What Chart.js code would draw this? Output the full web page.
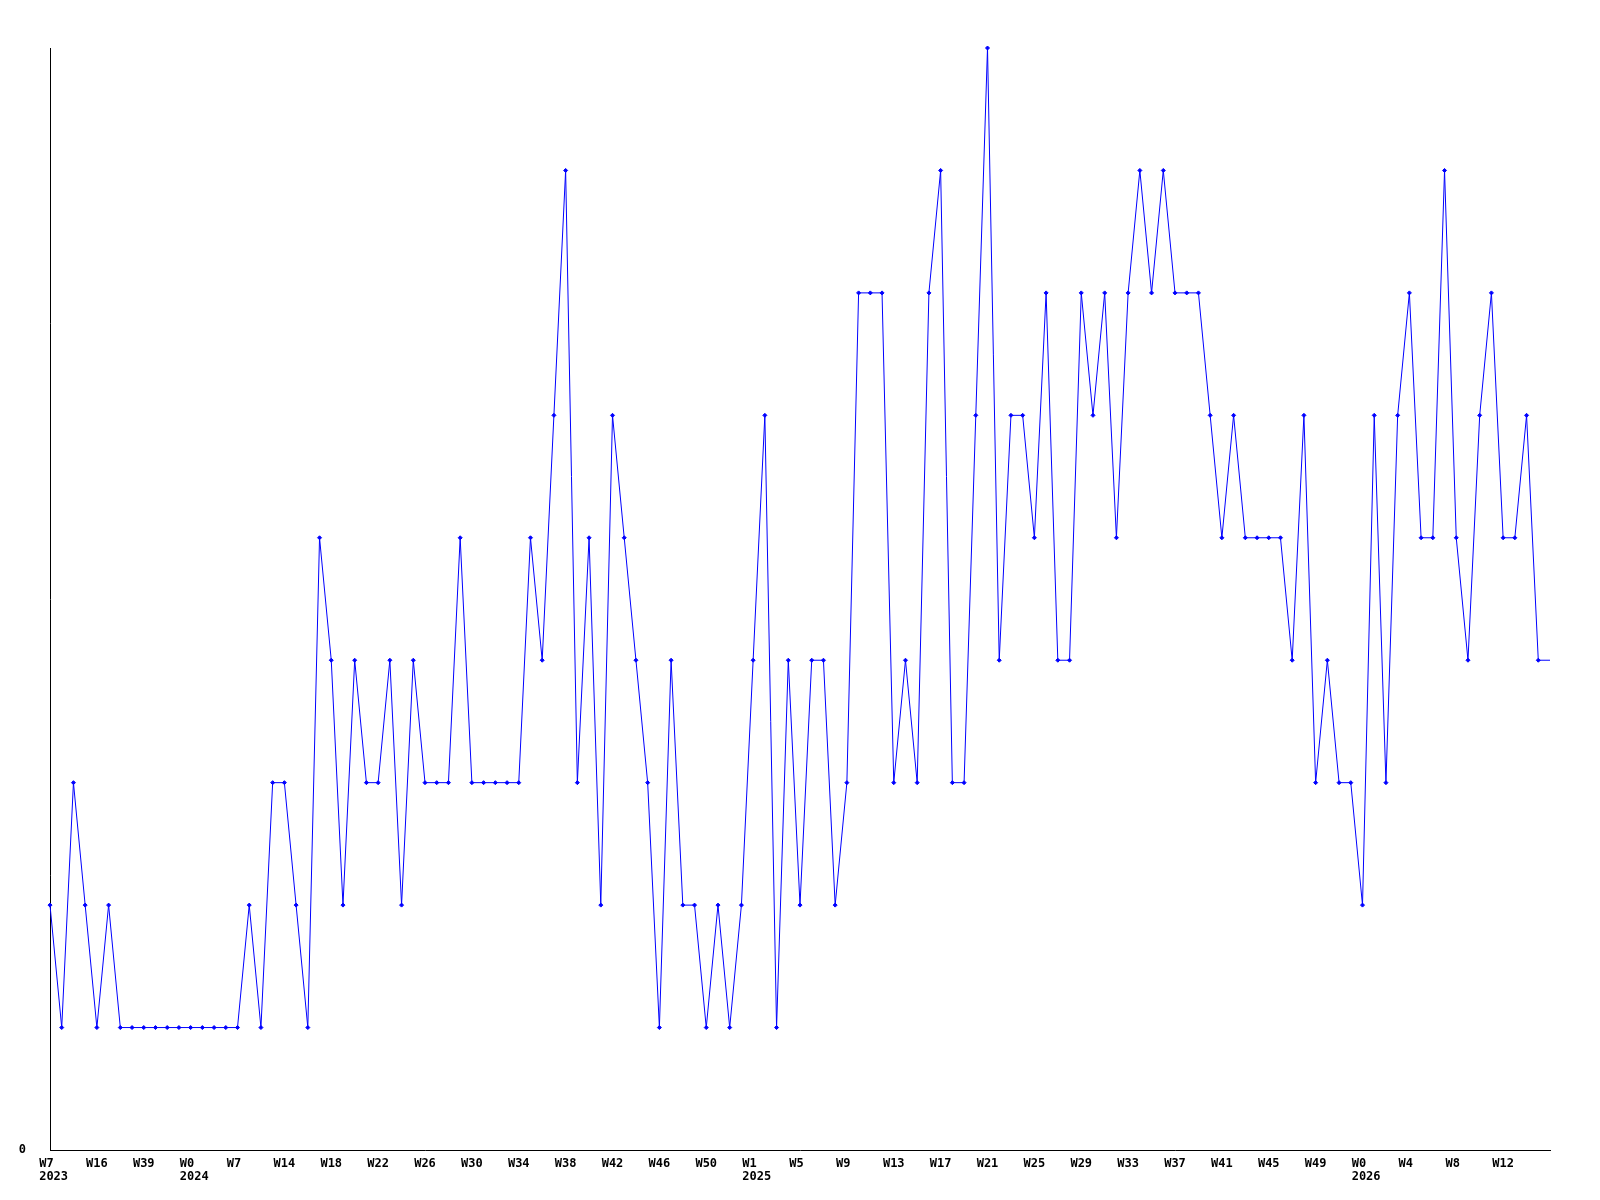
<!DOCTYPE html>
<html>
<head>
<meta charset="utf-8">
<script src="https://cdn.jsdelivr.net/npm/chart.js@4"></script>
<style>
  body { margin: 0; background: #fff; }
  canvas { display: block; }
</style>
</head>
<body>
<canvas id="weekChart" width="1600" height="1200"></canvas>
<script>
// weekly counts, one value per week (last value repeats to the right edge)
const values = [
    2, 1, 3, 2, 1, 2, 1, 1, 1, 1, 1, 1, 1, 1, 1, 1, 1, 2, 1, 3, 3, 2, 1,
    5, 4, 2, 4, 3, 3, 4, 2, 4, 3, 3, 3, 5, 3, 3, 3, 3, 3, 5, 4, 6, 8,
    3, 5, 2, 6, 5, 4, 3, 1, 4, 2, 2, 1, 2, 1, 2, 4, 6, 1, 4, 2, 4, 4, 2, 3,
    7, 7, 7, 3, 4, 3, 7, 8, 3, 3, 6, 9, 4, 6, 6, 5, 7, 4, 4, 7, 6, 7, 5, 7,
    8, 7, 8, 7, 7, 7, 6, 5, 6, 5, 5, 5, 5, 4, 6, 3, 4, 3, 3, 2, 6, 3, 6, 7,
    5, 5, 8, 5, 4, 6, 7, 5, 5, 6, 4, 4
];
const categories = values.map((v, i) => String(i));

// one tick label every 4 weeks
const tickWeeks = ['W7', 'W16', 'W39', 'W0', 'W7', 'W14', 'W18', 'W22', 'W26', 'W30', 'W34',
    'W38', 'W42', 'W46', 'W50', 'W1', 'W5', 'W9', 'W13', 'W17', 'W21', 'W25', 'W29', 'W33',
    'W37', 'W41', 'W45', 'W49', 'W0', 'W4', 'W8', 'W12'];
const tickYears = ['2023', '', '', '2024', '', '', '', '', '', '', '', '', '', '', '', '2025',
    '', '', '', '', '', '', '', '', '', '', '', '', '2026', '', '', ''];
const tickStep = 4;

const tickFont = { family: 'DejaVu Sans Mono', size: 12, weight: 'bold', lineHeight: 1.1 };

// monospace padding so both lines start at the same x like the original
function weekTick(value, index) {
    if (index % tickStep !== 0) return null;
    const k = index / tickStep;
    if (k >= tickWeeks.length) return null;
    const w = tickWeeks[k].padEnd(3, ' ');
    return tickYears[k] ? [w, ' ' + tickYears[k]] : w;
}

const ctx = document.getElementById('weekChart').getContext('2d');
new Chart(ctx, {
    type: 'line',
    data: {
        labels: categories,
        datasets: [{
            data: values,
            borderColor: '#0000ff',
            borderWidth: 1,
            backgroundColor: '#0000ff',
            pointStyle: 'rectRot',
            pointRadius: c => c.dataIndex === values.length - 1 ? 0 : 2,
            pointBorderWidth: 1,
            pointBorderColor: '#0000ff',
            pointBackgroundColor: '#0000ff',
            tension: 0,
            fill: false,
            clip: false
        }]
    },
    options: {
        responsive: false,
        animation: false,
        devicePixelRatio: 1,
        layout: { padding: { top: 48, right: 50, left: 0, bottom: 0 } },
        plugins: {
            legend: { display: false },
            tooltip: { enabled: false }
        },
        scales: {
            x: {
                grid: { display: false, drawTicks: false },
                border: { display: true, color: '#000', width: 1 },
                afterFit: s => { s.height = 50; },
                ticks: {
                    autoSkip: false,
                    maxRotation: 0,
                    padding: 7,
                    color: '#000',
                    font: tickFont,
                    callback: weekTick
                }
            },
            y: {
                min: 0,
                max: 9,
                grid: { display: false, drawTicks: false },
                border: { display: true, color: '#000', width: 1 },
                afterFit: s => { s.width = 50; },
                ticks: {
                    stepSize: 1,
                    padding: 24,
                    color: '#000',
                    font: tickFont,
                    callback: v => v === 0 ? '0' : null
                }
            }
        }
    }
});
</script>
</body>
</html>
